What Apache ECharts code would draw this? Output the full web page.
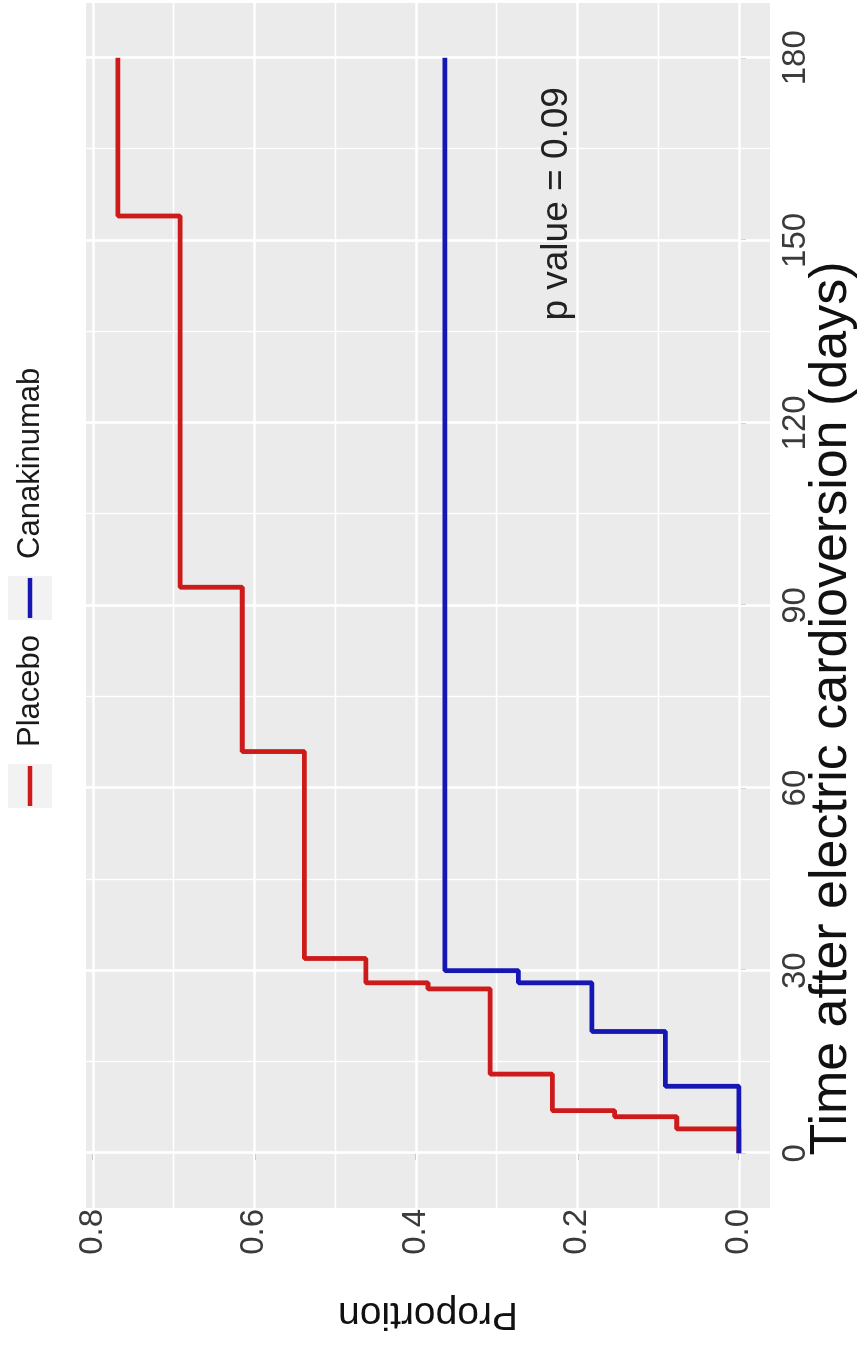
<!DOCTYPE html>
<html>
<head>
<meta charset="utf-8">
<script src="https://cdn.jsdelivr.net/npm/echarts@6/dist/echarts.min.js"></script>
<style>
html,body{margin:0;padding:0;background:#fff;overflow:hidden;width:864px;height:1346px;}
#chart{position:absolute;left:0;top:0;width:1346px;height:864px;transform-origin:0 0;transform:translate(0,1346px) rotate(-90deg);}
</style>
</head>
<body>
<div id="chart"></div>
<script>
// ---- data ----
const placeboTimes = [0, 4, 6, 7, 13, 27, 28, 32, 66, 93, 154, 180];
const placeboProps = [0, 0.077, 0.154, 0.231, 0.308, 0.385, 0.462, 0.538, 0.615, 0.692, 0.769, 0.769];
const canakTimes = [0, 11, 20, 28, 30, 180];
const canakProps = [0, 0.091, 0.182, 0.273, 0.364, 0.364];
const timeTicks = [0, 30, 60, 90, 120, 150, 180];
const timeMinor = [15, 45, 75, 105, 135, 165];
const propTicks = [0, 0.2, 0.4, 0.6, 0.8];
const propMinor = [0.1, 0.3, 0.5, 0.7];
const seriesNames = ['Placebo', 'Canakinumab'];
const pValueText = 'p value = 0.09';
const pValuePos = [156, 0.225];
const xTitle = 'Time after electric cardioversion (days)';
const yTitle = 'Proportion';

const FONT = '"Liberation Sans", Arial, sans-serif';
const RED = '#CD1A1A', BLUE = '#1616B4';

function zip(a, b) { return a.map((v, i) => [v, b[i]]); }
function keyIcon(color) {
  const svg = "<svg xmlns='http://www.w3.org/2000/svg' width='44' height='44'><rect width='44' height='44' fill='#F2F2F2'/><line x1='2' y1='22' x2='42' y2='22' stroke='" + color + "' stroke-width='4.5'/></svg>";
  return 'image://data:image/svg+xml;charset=utf-8,' + encodeURIComponent(svg);
}

const gridLines = [];
timeTicks.forEach(v => gridLines.push({ xAxis: v, lineStyle: { width: 2.6 } }));
timeMinor.forEach(v => gridLines.push({ xAxis: v, lineStyle: { width: 1.3 } }));
propTicks.forEach(v => gridLines.push({ yAxis: v, lineStyle: { width: 2.6 } }));
propMinor.forEach(v => gridLines.push({ yAxis: v, lineStyle: { width: 1.3 } }));

const chart = echarts.init(document.getElementById('chart'), null, { renderer: 'canvas' });
chart.setOption({
  animation: false,
  backgroundColor: '#ffffff',
  textStyle: { fontFamily: FONT },
  grid: { left: 138, right: 3, top: 86, bottom: 94, show: true, backgroundColor: '#EBEBEB', borderWidth: 0, containLabel: false, outerBoundsMode: 'none' },
  legend: {
    left: 533, top: 3, orient: 'horizontal',
    itemWidth: 44, itemHeight: 44, itemGap: 15,
    textStyle: { fontSize: 31, color: '#1a1a1a', fontFamily: FONT, padding: [0, 0, 0, 12] },
    data: [
      { name: seriesNames[0], icon: keyIcon(RED) },
      { name: seriesNames[1], icon: keyIcon(BLUE) }
    ]
  },
  xAxis: {
    type: 'value', min: -9, max: 189,
    axisLine: { show: false },
    axisTick: { show: true, customValues: timeTicks, length: 7, lineStyle: { color: '#333', width: 2 } },
    axisLabel: { customValues: timeTicks, fontSize: 33, color: '#3a3a3a', margin: 9, fontFamily: FONT },
    splitLine: { show: false },
    name: xTitle, nameLocation: 'middle', nameGap: 36, nameMoveOverlap: false,
    nameTextStyle: { fontSize: 52, color: '#111', fontFamily: FONT, padding: [0, 206, 0, 0] }
  },
  yAxis: {
    type: 'value', min: -0.0385, max: 0.8085,
    axisLine: { show: false },
    axisTick: { show: true, customValues: propTicks, length: 7, lineStyle: { color: '#333', width: 2 } },
    axisLabel: { customValues: propTicks, fontSize: 33, color: '#3a3a3a', margin: 1, fontFamily: FONT, formatter: v => v.toFixed(1) },
    splitLine: { show: false },
    name: yTitle, nameLocation: 'middle', nameGap: 86, nameMoveOverlap: false,
    nameTextStyle: { fontSize: 39, color: '#111', fontFamily: FONT, padding: [0, 0, 0, 0] }
  },
  series: [
    {
      name: '_grid', type: 'line', data: [], z: 1, silent: true,
      markLine: { z: 1, silent: true, symbol: 'none', label: { show: false }, lineStyle: { color: '#ffffff', type: 'solid' }, data: gridLines, animation: false },
      markPoint: {
        z: 2, silent: true, symbol: 'circle', symbolSize: 1, itemStyle: { color: 'rgba(0,0,0,0)' },
        label: { show: true, position: 'inside', formatter: pValueText, fontSize: 37, color: '#222', fontFamily: FONT },
        data: [{ coord: pValuePos }]
      }
    },
    {
      name: seriesNames[0], type: 'line', step: 'end', z: 10, showSymbol: false, symbol: 'none',
      lineStyle: { color: RED, width: 4.8 }, itemStyle: { color: RED },
      data: zip(placeboTimes, placeboProps)
    },
    {
      name: seriesNames[1], type: 'line', step: 'end', z: 10, showSymbol: false, symbol: 'none',
      lineStyle: { color: BLUE, width: 4.8 }, itemStyle: { color: BLUE },
      data: zip(canakTimes, canakProps)
    }
  ]
});
</script>
</body>
</html>
